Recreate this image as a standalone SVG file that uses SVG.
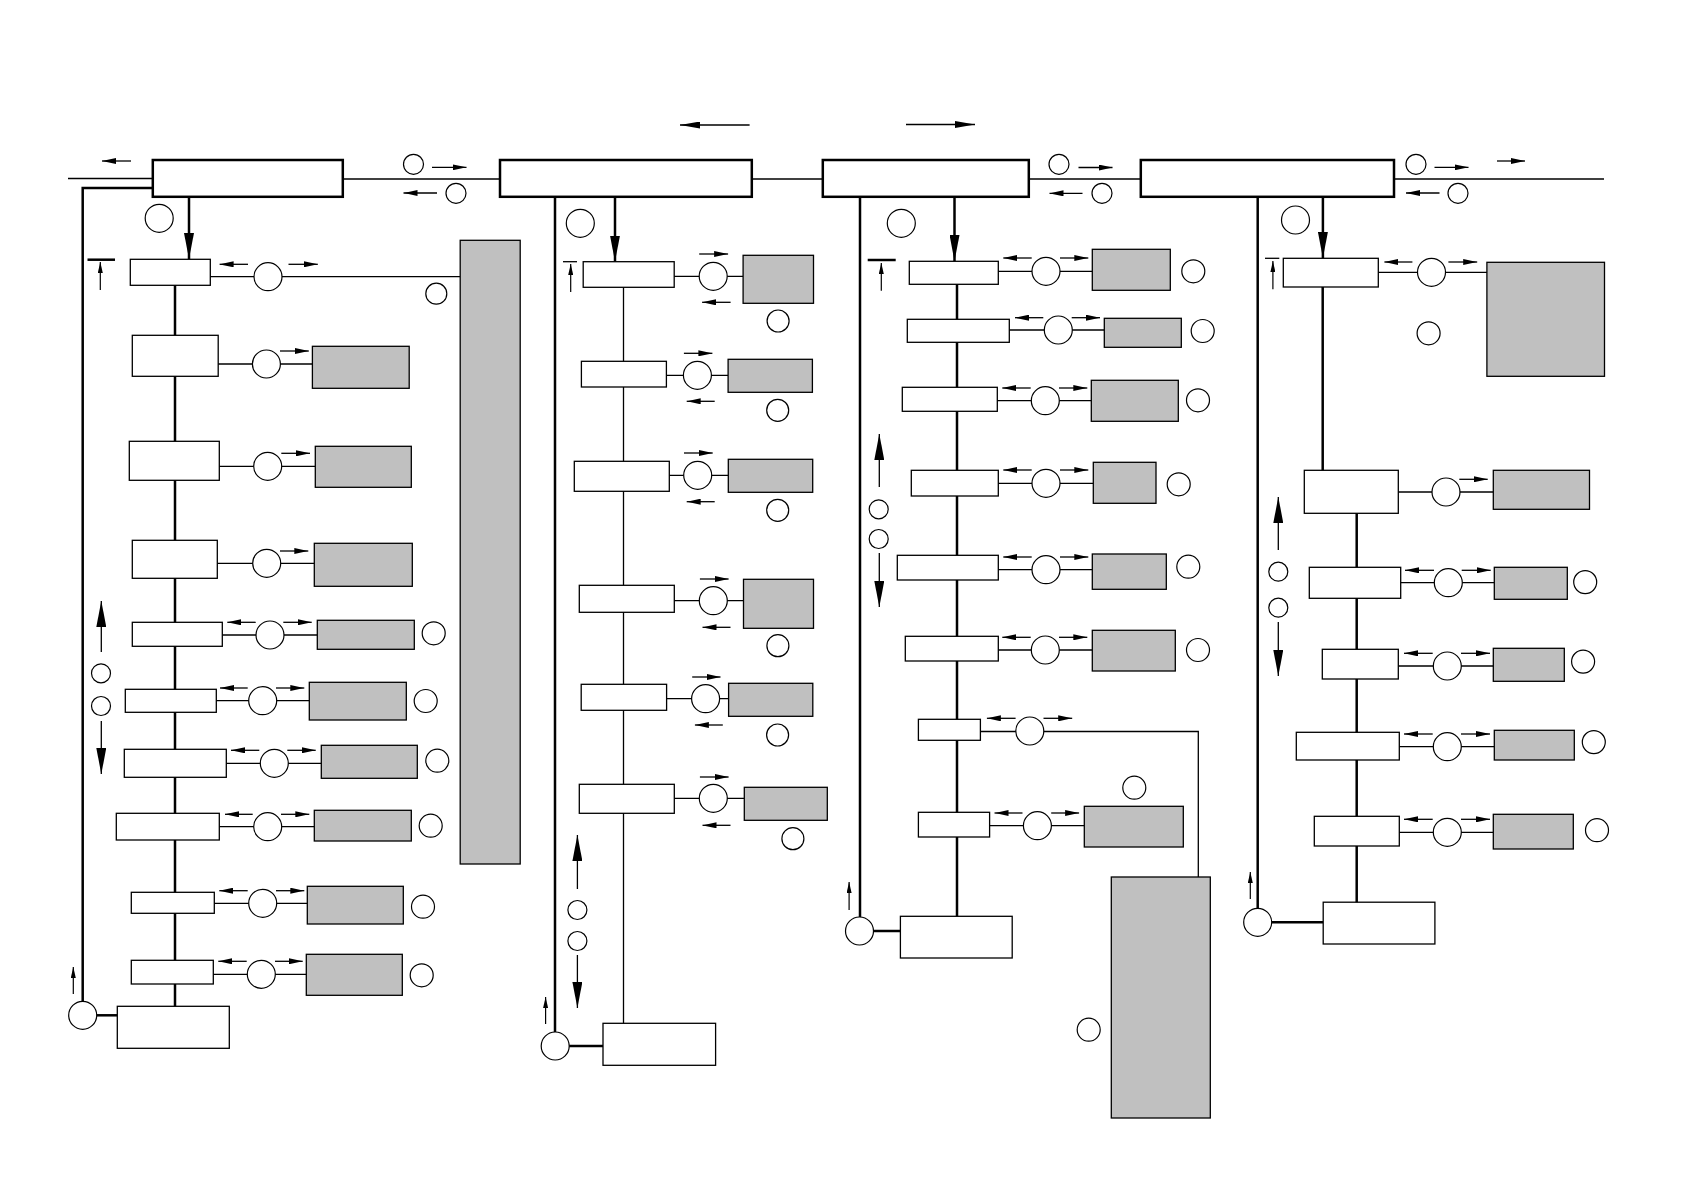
<svg xmlns="http://www.w3.org/2000/svg" width="1684" height="1192" viewBox="0 0 1684 1192">
<defs>
<marker id="s" markerUnits="userSpaceOnUse" markerWidth="14" markerHeight="6" refX="14" refY="3" orient="auto"><path d="M0,0 L14,3 L0,6 z" fill="#000"/></marker>
<marker id="m" markerUnits="userSpaceOnUse" markerWidth="20" markerHeight="7" refX="20" refY="3.5" orient="auto"><path d="M0,0 L20,3.5 L0,7 z" fill="#000"/></marker>
<marker id="b" markerUnits="userSpaceOnUse" markerWidth="26" markerHeight="10" refX="26" refY="5" orient="auto"><path d="M0,0 L26,5 L0,10 z" fill="#000"/></marker>
<marker id="u" markerUnits="userSpaceOnUse" markerWidth="11" markerHeight="5" refX="11" refY="2.5" orient="auto"><path d="M0,0 L11,2.5 L0,5 z" fill="#000"/></marker>
</defs>
<style>
.hdr{fill:#fff;stroke:#000;stroke-width:2.5}
.box{fill:#fff;stroke:#000;stroke-width:1.3}
.gray{fill:#c0c0c0;stroke:#000;stroke-width:1.3}
.c{fill:#fff;stroke:#000;stroke-width:1.2}
.ln{stroke:#000;stroke-width:1.3;fill:none}
.tk{stroke:#000;stroke-width:2.5;fill:none}
.as{stroke:#000;stroke-width:1.3;fill:none;marker-end:url(#s)}
.am{stroke:#000;stroke-width:1.3;fill:none;marker-end:url(#m)}
.ab{stroke:#000;stroke-width:1.3;fill:none;marker-end:url(#b)}
.abt{stroke:#000;stroke-width:2.5;fill:none;marker-end:url(#b)}
.au{stroke:#000;stroke-width:1.2;fill:none;marker-end:url(#u)}
</style>
<rect width="1684" height="1192" fill="#fff"/>
<g id="connectors">
<!-- top bus -->
<line class="ln" x1="68" y1="178.5" x2="153" y2="178.5"/>
<line class="ln" x1="343" y1="179" x2="500" y2="179"/>
<line class="ln" x1="752" y1="179" x2="823" y2="179"/>
<line class="ln" x1="1029" y1="179" x2="1141" y2="179"/>
<line class="ln" x1="1394" y1="179" x2="1604" y2="179"/>
<polyline class="tk" points="153,188 82.7,188 82.7,1001"/>
<line class="tk" x1="555" y1="197" x2="555" y2="1032"/>
<line class="tk" x1="860" y1="197" x2="860" y2="917"/>
<line class="tk" x1="1257.7" y1="197" x2="1257.7" y2="908"/>
<!-- top arrows -->
<line class="as" x1="131" y1="161" x2="102" y2="161"/>
<line class="am" x1="749.6" y1="125" x2="680" y2="125"/>
<line class="am" x1="906" y1="124.5" x2="975" y2="124.5"/>
<line class="as" x1="1497" y1="161" x2="1525" y2="161"/>
<line class="as" x1="432" y1="167.3" x2="466.5" y2="167.3"/>
<line class="as" x1="437" y1="193" x2="403.5" y2="193"/>
<line class="as" x1="1078.5" y1="167.5" x2="1112.5" y2="167.5"/>
<line class="as" x1="1082.5" y1="193.3" x2="1049.5" y2="193.3"/>
<line class="as" x1="1434.5" y1="167.3" x2="1468.5" y2="167.3"/>
<line class="as" x1="1439.5" y1="193" x2="1406" y2="193"/>
<!-- header down arrows -->
<line class="abt" x1="189" y1="197" x2="189" y2="259"/>
<line class="abt" x1="615" y1="197" x2="615" y2="261.5"/>
<line class="abt" x1="954.5" y1="197" x2="954.5" y2="261"/>
<line class="abt" x1="1322.9" y1="197" x2="1322.9" y2="258"/>
<!-- T markers -->
<line class="tk" x1="87.5" y1="259.7" x2="115" y2="259.7"/>
<line class="au" x1="100.3" y1="290" x2="100.3" y2="262"/>
<line class="ln" x1="563" y1="261.7" x2="577" y2="261.7"/>
<line class="au" x1="570.7" y1="292" x2="570.7" y2="264"/>
<line class="tk" x1="867.7" y1="260" x2="895.7" y2="260"/>
<line class="au" x1="881.3" y1="290.7" x2="881.3" y2="263"/>
<line class="ln" x1="1265" y1="258.3" x2="1279.3" y2="258.3"/>
<line class="au" x1="1272.9" y1="289.3" x2="1272.9" y2="261"/>
<!-- trunk verticals -->
<line class="tk" x1="175" y1="285" x2="175" y2="1007"/>
<line class="ln" x1="623.5" y1="287" x2="623.5" y2="1024"/>
<line class="tk" x1="957" y1="284" x2="957" y2="917"/>
<line class="tk" x1="1322.7" y1="287" x2="1322.7" y2="471"/>
<line class="tk" x1="1356.7" y1="513" x2="1356.7" y2="903"/>
<!-- bottom links -->
<line class="tk" x1="96.7" y1="1015.3" x2="117.3" y2="1015.3"/>
<line class="au" x1="73.3" y1="994" x2="73.3" y2="967"/>
<line class="tk" x1="569" y1="1046" x2="603" y2="1046"/>
<line class="au" x1="545.6" y1="1024" x2="545.6" y2="997"/>
<line class="tk" x1="873.5" y1="931" x2="900.4" y2="931"/>
<line class="au" x1="849.1" y1="910" x2="849.1" y2="882"/>
<line class="tk" x1="1271.7" y1="922.3" x2="1323.2" y2="922.3"/>
<line class="au" x1="1250.3" y1="899" x2="1250.3" y2="872"/>
<!-- up/down arrows -->
<line class="ab" x1="101.3" y1="652" x2="101.3" y2="601"/>
<line class="ab" x1="101.3" y1="721" x2="101.3" y2="774"/>
<line class="ab" x1="577.4" y1="889" x2="577.4" y2="835"/>
<line class="ab" x1="577.4" y1="955" x2="577.4" y2="1008"/>
<line class="ab" x1="879.3" y1="487" x2="879.3" y2="434"/>
<line class="ab" x1="879.3" y1="553" x2="879.3" y2="607"/>
<line class="ab" x1="1278.3" y1="550" x2="1278.3" y2="497"/>
<line class="ab" x1="1278.3" y1="622" x2="1278.3" y2="676"/>
<!-- col1 row links -->
<line class="ln" x1="210" y1="276.7" x2="460" y2="276.7"/>
<line class="as" x1="248" y1="264.3" x2="219.6" y2="264.3"/>
<line class="as" x1="288.5" y1="264.3" x2="317.8" y2="264.3"/>
<line class="ln" x1="218" y1="364" x2="312.4" y2="364"/>
<line class="as" x1="280" y1="351" x2="308.8" y2="351"/>
<line class="ln" x1="219" y1="466.3" x2="315.3" y2="466.3"/>
<line class="as" x1="281.3" y1="453.3" x2="310" y2="453.3"/>
<line class="ln" x1="217" y1="563.3" x2="314.3" y2="563.3"/>
<line class="as" x1="280" y1="551" x2="308.3" y2="551"/>
<line class="ln" x1="222" y1="635" x2="317.3" y2="635"/>
<line class="as" x1="255.7" y1="622.3" x2="227.3" y2="622.3"/>
<line class="as" x1="283.3" y1="622.3" x2="311.7" y2="622.3"/>
<line class="ln" x1="216" y1="700.7" x2="309.3" y2="700.7"/>
<line class="as" x1="247.7" y1="688" x2="220" y2="688"/>
<line class="as" x1="276" y1="688" x2="304.3" y2="688"/>
<line class="ln" x1="226" y1="763.3" x2="321.3" y2="763.3"/>
<line class="as" x1="259.3" y1="750.3" x2="231" y2="750.3"/>
<line class="as" x1="287.3" y1="750.3" x2="315.7" y2="750.3"/>
<line class="ln" x1="219" y1="826.7" x2="314.3" y2="826.7"/>
<line class="as" x1="252.7" y1="814.3" x2="225" y2="814.3"/>
<line class="as" x1="281" y1="814.3" x2="309.3" y2="814.3"/>
<line class="ln" x1="214" y1="903.3" x2="307.3" y2="903.3"/>
<line class="as" x1="247.7" y1="890.7" x2="219.3" y2="890.7"/>
<line class="as" x1="276" y1="890.7" x2="304.3" y2="890.7"/>
<line class="ln" x1="213" y1="974.3" x2="306.3" y2="974.3"/>
<line class="as" x1="246.7" y1="961.3" x2="218.3" y2="961.3"/>
<line class="as" x1="275" y1="961.3" x2="302.7" y2="961.3"/>
<!-- col2 row links -->
<line class="ln" x1="674" y1="276.3" x2="743" y2="276.3"/>
<line class="as" x1="699.2" y1="254" x2="728.1" y2="254"/>
<line class="as" x1="730.6" y1="302.3" x2="702.1" y2="302.3"/>
<line class="ln" x1="666" y1="375.3" x2="728" y2="375.3"/>
<line class="as" x1="683.9" y1="353.3" x2="712.4" y2="353.3"/>
<line class="as" x1="714.7" y1="401.3" x2="686.7" y2="401.3"/>
<line class="ln" x1="669" y1="475.3" x2="728.3" y2="475.3"/>
<line class="as" x1="684" y1="453" x2="712.7" y2="453"/>
<line class="as" x1="714.7" y1="501.7" x2="686.7" y2="501.7"/>
<line class="ln" x1="674" y1="600.7" x2="743.5" y2="600.7"/>
<line class="as" x1="699.9" y1="579" x2="728.6" y2="579"/>
<line class="as" x1="730.5" y1="627.3" x2="702.5" y2="627.3"/>
<line class="ln" x1="666" y1="698.7" x2="728.6" y2="698.7"/>
<line class="as" x1="692.2" y1="677" x2="720.5" y2="677"/>
<line class="as" x1="722.8" y1="725" x2="694.9" y2="725"/>
<line class="ln" x1="674" y1="798.3" x2="744.3" y2="798.3"/>
<line class="as" x1="699.9" y1="777" x2="728.6" y2="777"/>
<line class="as" x1="730.5" y1="825.3" x2="702.5" y2="825.3"/>
<!-- col3 row links -->
<line class="ln" x1="998" y1="271.3" x2="1092.3" y2="271.3"/>
<line class="as" x1="1031.7" y1="258" x2="1003.3" y2="258"/>
<line class="as" x1="1060" y1="258" x2="1088.3" y2="258"/>
<line class="ln" x1="1009" y1="330" x2="1104.3" y2="330"/>
<line class="as" x1="1043.3" y1="317.7" x2="1015" y2="317.7"/>
<line class="as" x1="1071.7" y1="317.7" x2="1100" y2="317.7"/>
<line class="ln" x1="997" y1="400.7" x2="1091.3" y2="400.7"/>
<line class="as" x1="1030.7" y1="388" x2="1002.3" y2="388"/>
<line class="as" x1="1059" y1="388" x2="1087.3" y2="388"/>
<line class="ln" x1="998" y1="483.3" x2="1093.3" y2="483.3"/>
<line class="as" x1="1031.7" y1="470" x2="1003.3" y2="470"/>
<line class="as" x1="1060" y1="470" x2="1088.3" y2="470"/>
<line class="ln" x1="998" y1="569.7" x2="1092.3" y2="569.7"/>
<line class="as" x1="1031.7" y1="557" x2="1003.3" y2="557"/>
<line class="as" x1="1060" y1="557" x2="1088.3" y2="557"/>
<line class="ln" x1="998" y1="650" x2="1092.3" y2="650"/>
<line class="as" x1="1030.7" y1="637.3" x2="1002.3" y2="637.3"/>
<line class="as" x1="1059" y1="637.3" x2="1087.3" y2="637.3"/>
<polyline class="ln" points="980,731.5 1198.3,731.5 1198.3,877"/>
<line class="as" x1="1015.6" y1="718.3" x2="986.9" y2="718.3"/>
<line class="as" x1="1043.5" y1="718.3" x2="1072.2" y2="718.3"/>
<line class="ln" x1="989" y1="825.7" x2="1084.3" y2="825.7"/>
<line class="as" x1="1022.5" y1="813" x2="994.5" y2="813"/>
<line class="as" x1="1051.2" y1="813" x2="1079.1" y2="813"/>
<!-- col4 row links -->
<line class="ln" x1="1378" y1="272.3" x2="1487" y2="272.3"/>
<line class="as" x1="1412.4" y1="262" x2="1384.4" y2="262"/>
<line class="as" x1="1448.4" y1="262" x2="1477.2" y2="262"/>
<line class="ln" x1="1398" y1="492" x2="1493.3" y2="492"/>
<line class="as" x1="1459.3" y1="479.3" x2="1487.7" y2="479.3"/>
<line class="ln" x1="1400" y1="582.7" x2="1494.3" y2="582.7"/>
<line class="as" x1="1434" y1="570.3" x2="1405" y2="570.3"/>
<line class="as" x1="1461.7" y1="570.3" x2="1490.7" y2="570.3"/>
<line class="ln" x1="1398" y1="666" x2="1493.3" y2="666"/>
<line class="as" x1="1432.7" y1="653.3" x2="1404" y2="653.3"/>
<line class="as" x1="1461" y1="653.3" x2="1490" y2="653.3"/>
<line class="ln" x1="1399" y1="746.7" x2="1494.3" y2="746.7"/>
<line class="as" x1="1432.7" y1="734" x2="1404" y2="734"/>
<line class="as" x1="1461" y1="734" x2="1490" y2="734"/>
<line class="ln" x1="1399" y1="832.3" x2="1493.3" y2="832.3"/>
<line class="as" x1="1432.7" y1="819.3" x2="1404" y2="819.3"/>
<line class="as" x1="1461" y1="819.3" x2="1490" y2="819.3"/>
</g>
<g id="headers">
<rect id="h1" class="hdr" x="152.8" y="160" width="190" height="36.8"/>
<rect id="h2" class="hdr" x="500" y="160" width="251.8" height="36.8"/>
<rect id="h3" class="hdr" x="822.8" y="160" width="206" height="36.8"/>
<rect id="h4" class="hdr" x="1140.8" y="160" width="253.2" height="36.8"/>
<circle class="c" cx="413.5" cy="164.3" r="10"/>
<circle class="c" cx="456" cy="193.3" r="10"/>
<circle class="c" cx="1059" cy="164.3" r="10"/>
<circle class="c" cx="1102" cy="193.3" r="10"/>
<circle class="c" cx="1416" cy="164.3" r="10"/>
<circle class="c" cx="1458" cy="193.3" r="10"/>
<circle class="c" cx="159.2" cy="218.3" r="14"/>
<circle class="c" cx="580.3" cy="223.3" r="14"/>
<circle class="c" cx="901.3" cy="223.3" r="14"/>
<circle class="c" cx="1295.5" cy="220" r="14"/>
</g>
<g id="col1">
<rect class="gray" x="460.2" y="240.3" width="60" height="623.7"/>
<circle class="c" cx="436.3" cy="293.7" r="10.5"/>
<g id="c1r1"><rect class="box" x="130.3" y="259.3" width="80" height="26"/><circle class="c" cx="268" cy="276.7" r="14"/></g>
<g id="c1r2"><rect class="box" x="132.3" y="335.3" width="85.9" height="41"/><circle class="c" cx="266.4" cy="364" r="14"/><rect class="gray" x="312.4" y="346.3" width="96.8" height="42"/></g>
<g id="c1r3"><rect class="box" x="129.3" y="441.3" width="90" height="39"/><circle class="c" cx="267.7" cy="466.3" r="14"/><rect class="gray" x="315.3" y="446.3" width="96" height="41"/></g>
<g id="c1r4"><rect class="box" x="132.3" y="540.3" width="85" height="38"/><circle class="c" cx="266.7" cy="563.3" r="14"/><rect class="gray" x="314.3" y="543.3" width="98" height="43"/></g>
<g id="c1r5"><rect class="box" x="132.3" y="622.3" width="90" height="24"/><circle class="c" cx="270" cy="635" r="14"/><rect class="gray" x="317.3" y="620.3" width="97" height="29"/><circle class="c" cx="433.7" cy="633.3" r="11.5"/></g>
<g id="c1r6"><rect class="box" x="125.3" y="689.3" width="91" height="23"/><circle class="c" cx="262.7" cy="700.7" r="14"/><rect class="gray" x="309.3" y="682.3" width="97" height="37.7"/><circle class="c" cx="425.7" cy="701" r="11.5"/></g>
<g id="c1r7"><rect class="box" x="124.3" y="749.3" width="102" height="28"/><circle class="c" cx="274.3" cy="763.3" r="14"/><rect class="gray" x="321.3" y="745.3" width="96" height="33"/><circle class="c" cx="437.3" cy="760.7" r="11.5"/></g>
<g id="c1r8"><rect class="box" x="116.3" y="813.3" width="103" height="26.7"/><circle class="c" cx="267.7" cy="826.7" r="14"/><rect class="gray" x="314.3" y="810.3" width="97" height="30.7"/><circle class="c" cx="430.7" cy="825.7" r="11.5"/></g>
<g id="c1r9"><rect class="box" x="131.3" y="892.3" width="83" height="21"/><circle class="c" cx="262.7" cy="903.3" r="14"/><rect class="gray" x="307.3" y="886.3" width="96" height="37.7"/><circle class="c" cx="423" cy="906.7" r="11.5"/></g>
<g id="c1r10"><rect class="box" x="131.3" y="960.3" width="82" height="23.7"/><circle class="c" cx="261.3" cy="974.3" r="14"/><rect class="gray" x="306.3" y="954.3" width="96" height="41"/><circle class="c" cx="421.7" cy="975.3" r="11.5"/></g>
<g id="c1bot"><rect class="box" x="117.3" y="1006.3" width="112" height="42"/><circle class="c" cx="82.7" cy="1015.3" r="14"/></g>
<circle class="c" cx="101" cy="673.3" r="9.5"/>
<circle class="c" cx="101" cy="706" r="9.5"/>
</g>
<g id="col2">
<g id="c2r1"><rect class="box" x="583.2" y="261.7" width="91" height="25.6"/><circle class="c" cx="713.2" cy="276.3" r="14"/><rect class="gray" x="743.1" y="255.3" width="70.4" height="48"/><circle class="c" cx="778.1" cy="321" r="11"/></g>
<g id="c2r2"><rect class="box" x="581.4" y="361.3" width="85" height="25.7"/><circle class="c" cx="697.4" cy="375.3" r="14"/><rect class="gray" x="728.1" y="359.3" width="84.3" height="33"/><circle class="c" cx="777.7" cy="410.3" r="11"/></g>
<g id="c2r3"><rect class="box" x="574.3" y="461.3" width="95" height="30"/><circle class="c" cx="697.7" cy="475.3" r="14"/><rect class="gray" x="728.3" y="459.3" width="84.4" height="33"/><circle class="c" cx="777.7" cy="510.3" r="11"/></g>
<g id="c2r4"><rect class="box" x="579.3" y="585.3" width="95" height="27"/><circle class="c" cx="713.3" cy="600.7" r="14"/><rect class="gray" x="743.5" y="579.3" width="70" height="49"/><circle class="c" cx="777.9" cy="645.7" r="11"/></g>
<g id="c2r5"><rect class="box" x="581.2" y="684.3" width="85.4" height="26"/><circle class="c" cx="705.6" cy="698.7" r="14"/><rect class="gray" x="728.6" y="683.3" width="84.2" height="33"/><circle class="c" cx="777.6" cy="735" r="11"/></g>
<g id="c2r6"><rect class="box" x="579.3" y="784.3" width="95" height="29"/><circle class="c" cx="713.3" cy="798.3" r="14"/><rect class="gray" x="744.3" y="787.3" width="83" height="33"/><circle class="c" cx="792.9" cy="838.7" r="11"/></g>
<g id="c2bot"><rect class="box" x="603" y="1023.3" width="112.6" height="42"/><circle class="c" cx="555.2" cy="1046" r="14"/></g>
<circle class="c" cx="577.4" cy="910" r="9.5"/>
<circle class="c" cx="577.4" cy="941" r="9.5"/>
</g>
<g id="col3">
<g id="c3r1"><rect class="box" x="909.3" y="261.3" width="89" height="23"/><circle class="c" cx="1046" cy="271.3" r="14"/><rect class="gray" x="1092.3" y="249.3" width="78" height="41"/><circle class="c" cx="1193.3" cy="271.3" r="11.5"/></g>
<g id="c3r2"><rect class="box" x="907.3" y="319.3" width="102" height="23"/><circle class="c" cx="1058.3" cy="330" r="14"/><rect class="gray" x="1104.3" y="318.3" width="77" height="29"/><circle class="c" cx="1202.7" cy="331" r="11.5"/></g>
<g id="c3r3"><rect class="box" x="902.3" y="387.3" width="95" height="24"/><circle class="c" cx="1045.3" cy="400.7" r="14"/><rect class="gray" x="1091.3" y="380.3" width="87" height="41"/><circle class="c" cx="1198" cy="400.3" r="11.5"/></g>
<g id="c3r4"><rect class="box" x="911.3" y="470.3" width="87" height="25.7"/><circle class="c" cx="1046" cy="483.3" r="14"/><rect class="gray" x="1093.3" y="462.3" width="62.7" height="41"/><circle class="c" cx="1178.7" cy="484.3" r="11.5"/></g>
<g id="c3r5"><rect class="box" x="897.3" y="555.3" width="101" height="24.7"/><circle class="c" cx="1046" cy="569.7" r="14"/><rect class="gray" x="1092.3" y="554" width="74" height="35.3"/><circle class="c" cx="1188.3" cy="566.7" r="11.5"/></g>
<g id="c3r6"><rect class="box" x="905.3" y="636.3" width="93" height="24.7"/><circle class="c" cx="1045.3" cy="650" r="14"/><rect class="gray" x="1092.3" y="630.3" width="83" height="40.7"/><circle class="c" cx="1198" cy="650" r="11.5"/></g>
<g id="c3r7"><rect class="box" x="918.4" y="719.3" width="62" height="21"/><circle class="c" cx="1029.8" cy="731" r="14"/></g>
<g id="c3r8"><rect class="box" x="918.4" y="812.3" width="71.2" height="24.7"/><circle class="c" cx="1037.4" cy="825.7" r="14"/><rect class="gray" x="1084.3" y="806.3" width="99" height="40.7"/><circle class="c" cx="1134.3" cy="787.7" r="11.5"/></g>
<g id="c3tall"><rect class="gray" x="1111.3" y="877" width="99" height="241"/><circle class="c" cx="1088.7" cy="1029.7" r="11.5"/></g>
<g id="c3bot"><rect class="box" x="900.4" y="916.3" width="111.8" height="41.7"/><circle class="c" cx="859.5" cy="931" r="14"/></g>
<circle class="c" cx="878.7" cy="509.3" r="9.5"/>
<circle class="c" cx="878.7" cy="539" r="9.5"/>
</g>
<g id="col4">
<g id="c4r1"><rect class="box" x="1283.3" y="258.3" width="95" height="28.7"/><circle class="c" cx="1431.5" cy="272.3" r="14"/><rect class="gray" x="1486.9" y="262.3" width="117.6" height="114"/><circle class="c" cx="1428.6" cy="333.3" r="11.5"/></g>
<g id="c4r2"><rect class="box" x="1304.3" y="470.3" width="94" height="43"/><circle class="c" cx="1446" cy="492" r="14"/><rect class="gray" x="1493.3" y="470.3" width="96.2" height="39"/></g>
<g id="c4r3"><rect class="box" x="1309.3" y="567.3" width="91.4" height="31"/><circle class="c" cx="1448.3" cy="582.7" r="14"/><rect class="gray" x="1494.3" y="567.3" width="73" height="32"/><circle class="c" cx="1585.2" cy="582.1" r="11.5"/></g>
<g id="c4r4"><rect class="box" x="1322.3" y="649.3" width="76" height="29.7"/><circle class="c" cx="1447.3" cy="666" r="14"/><rect class="gray" x="1493.3" y="648.3" width="71" height="33"/><circle class="c" cx="1583.1" cy="661.6" r="11.5"/></g>
<g id="c4r5"><rect class="box" x="1296.3" y="732.3" width="103" height="27.7"/><circle class="c" cx="1447.3" cy="746.7" r="14"/><rect class="gray" x="1494.3" y="730.3" width="80" height="29.7"/><circle class="c" cx="1593.8" cy="742.1" r="11.5"/></g>
<g id="c4r6"><rect class="box" x="1314.3" y="816.3" width="85" height="29.7"/><circle class="c" cx="1447.3" cy="832.3" r="14"/><rect class="gray" x="1493.3" y="814.3" width="80" height="34.7"/><circle class="c" cx="1597" cy="830.2" r="11.5"/></g>
<g id="c4bot"><rect class="box" x="1323.2" y="902.2" width="111.7" height="41.8"/><circle class="c" cx="1257.7" cy="922.3" r="14"/></g>
<circle class="c" cx="1278.3" cy="571.7" r="9.5"/>
<circle class="c" cx="1278.3" cy="607.7" r="9.5"/>
</g>
</svg>
